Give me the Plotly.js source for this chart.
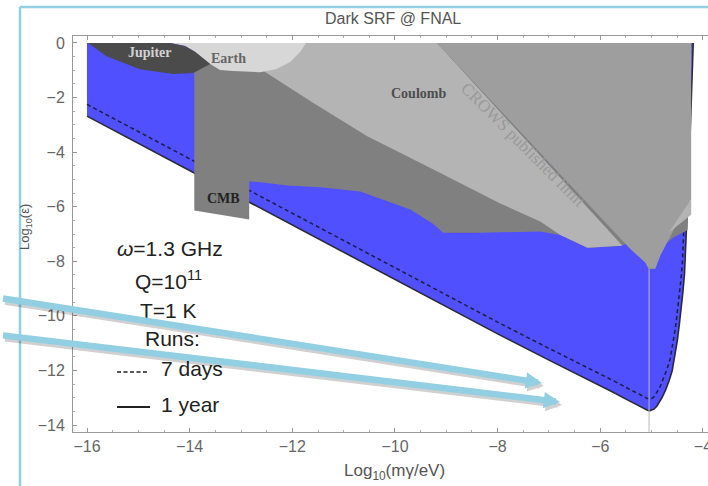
<!DOCTYPE html>
<html><head><meta charset="utf-8">
<script src="https://cdn.plot.ly/plotly-3.0.1.min.js"></script>
<style>html,body{margin:0;padding:0;background:#fff;} #chart{width:708px;height:486px;}</style>
</head><body><div id="chart"></div>
<script>
// ---- data (log10 mass in eV, log10 epsilon) ----
const year1X = [-16, -14, -12, -10, -8, -7, -6.5, -6, -5.75, -5.5, -5.35, -5.25, -5.15, -5.08, -5.04, -5.0, -4.95, -4.9, -4.85, -4.8, -4.73, -4.66, -4.6, -4.55, -4.5, -4.46, -4.42, -4.39, -4.36, -4.34, -4.32, -4.3, -4.28, -4.26, -4.24, -4.22, -4.19];
const year1Y = [-2.68, -4.68, -6.68, -8.68, -10.66, -11.62, -12.08, -12.55, -12.8, -13.05, -13.2, -13.31, -13.41, -13.46, -13.48, -13.46, -13.41, -13.31, -13.17, -13.0, -12.72, -12.38, -12.01, -11.5, -10.91, -10.3, -9.7, -9.1, -8.45, -7.7, -6.87, -6.1, -5.0, -3.9, -2.6, -1.4, 0];
const days7X = [-16, -14, -12, -10, -8, -7, -6.5, -6, -5.75, -5.5, -5.35, -5.25, -5.15, -5.08, -5.04, -5.0, -4.96, -4.92, -4.88, -4.83, -4.77, -4.7, -4.64, -4.59, -4.54, -4.5, -4.46, -4.43, -4.4, -4.38, -4.36, -4.34, -4.32, -4.3, -4.28, -4.26, -4.23];
const days7Y = [-2.25, -4.25, -6.25, -8.25, -10.23, -11.19, -11.65, -12.12, -12.37, -12.62, -12.77, -12.88, -12.98, -13.03, -13.05, -13.03, -12.98, -12.88, -12.74, -12.57, -12.29, -11.95, -11.58, -11.07, -10.48, -9.87, -9.27, -8.67, -8.02, -7.27, -6.44, -5.67, -4.57, -3.47, -2.17, -0.97, 0];

const cmbX = [-13.91, -13.91, -12.84, -12.84, -12.57, -12.10, -11.46, -10.68, -10.23, -9.70, -9.26, -9.06, -8.34, -7.17, -6.78, -6.25, -5.61, -5.42, -5.26, -5.12, -5.06, -4.93, -4.89, -4.77, -4.58, -4.34, -4.30, -4.22];
const cmbY = [0, -6.14, -6.47, -5.07, -5.11, -5.22, -5.29, -5.44, -5.74, -6.10, -6.62, -6.95, -6.95, -6.91, -7.04, -7.50, -7.43, -7.32, -7.68, -8.05, -8.27, -8.27, -7.87, -7.43, -7.13, -6.87, -6.85, 0];
const coulombX = [-12.53, -12.59, -11.59, -10.54, -9.26, -7.95, -7.17, -6.78, -6.25, -5.57, -9.18];
const coulombY = [0, -0.99, -2.20, -3.42, -4.63, -5.88, -6.54, -7.04, -7.50, -7.43, 0];
const crowsX = [-9.18, -5.42, -5.12, -5.06, -4.93, -4.83, -4.60, -4.23, -4.23];
const crowsY = [0, -7.54, -8.05, -8.27, -8.27, -7.79, -6.95, -5.73, 0];
const wedgeX = [-4.67, -4.23, -4.23];
const wedgeY = [-6.95, -5.73, -6.29];
const earthX = [-14.38, -14.09, -13.89, -13.60, -13.41, -13.15, -12.63, -12.32, -12.04, -11.85, -11.73];
const earthY = [0, -0.11, -0.33, -0.77, -0.99, -1.03, -1.07, -0.96, -0.70, -0.33, 0];
const jupiterX = [-15.98, -15.63, -14.97, -14.32, -13.93, -13.60, -13.89, -14.09, -14.38, -15.2, -15.98];
const jupiterY = [0, -0.48, -0.96, -1.14, -1.10, -0.77, -0.33, -0.11, 0, 0, 0];
const resonanceX = [-5.05, -5.05];
const resonanceY = [-8.27, -14.3];

// ---- layout helpers ----
const W = 708, H = 486, ML = 73, MR = 0, MT = 36, MB = 54;
const PW = W - ML - MR, PH = H - MT - MB;
function pxX(x) { return (x - ML) / PW; }
function pxY(y) { return (H - MB - y) / PH; }

const SANS = 'Liberation Sans, Arial, sans-serif';
const SERIF = 'Liberation Serif, Times New Roman, serif';

function poly(x, y, color) {
  return {x: x, y: y, type: 'scatter', mode: 'lines', fill: 'toself', fillcolor: color,
          line: {width: 0, color: color}, hoverinfo: 'skip', showlegend: false};
}

const traces = [
  poly([-16].concat(year1X), [0].concat(year1Y), '#5050ff'),
  {x: days7X, y: days7Y, type: 'scatter', mode: 'lines', line: {color: '#1c1c44', width: 1.5, dash: '4px,3px'}, showlegend: false},
  {x: year1X, y: year1Y, type: 'scatter', mode: 'lines', line: {color: '#2a2a3a', width: 1.6}, showlegend: false},
  {x: resonanceX, y: resonanceY, type: 'scatter', mode: 'lines', line: {color: '#b8b8b8', width: 1}, showlegend: false},
  poly(cmbX, cmbY, '#808080'),
  poly(coulombX, coulombY, '#b4b4b4'),
  poly(crowsX, crowsY, '#9e9e9e'),
  poly(wedgeX, wedgeY, '#b4b4b4'),
  poly(earthX, earthY, '#d7d7d7'),
  poly(jupiterX, jupiterY, '#4b4b4b')
];

const blue = '#93cfe2';
const shapes = [
  {type: 'line', xref: 'paper', yref: 'paper', x0: pxX(20), x1: pxX(20), y0: pxY(7), y1: pxY(490), line: {color: blue, width: 2.5}},
  {type: 'line', xref: 'paper', yref: 'paper', x0: pxX(20), x1: pxX(712), y0: pxY(7), y1: pxY(7), line: {color: blue, width: 2.5}},
  {type: 'line', xref: 'paper', yref: 'paper', x0: pxX(117), x1: pxX(148), y0: pxY(372), y1: pxY(372), line: {color: '#222', width: 1.5, dash: '4px,2.5px'}},
  {type: 'line', xref: 'paper', yref: 'paper', x0: pxX(117), x1: pxX(150), y0: pxY(407), y1: pxY(407), line: {color: '#222', width: 2}}
];

function txt(text, x, y, size, color, family, extra) {
  return Object.assign({text: text, xref: 'paper', yref: 'paper', x: pxX(x), y: pxY(y),
    xanchor: 'center', yanchor: 'middle', showarrow: false,
    font: {size: size, color: color, family: family}}, extra || {});
}
function arrow(tx, ty, sx, sy, color) {
  return {text: ' ', xref: 'paper', yref: 'paper', x: pxX(tx), y: pxY(ty), ax: sx - tx, ay: sy - ty,
    showarrow: true, arrowhead: 2, arrowsize: 0.5, arrowwidth: 6.5, arrowcolor: color, standoff: 0};
}

const annotations = [
  txt('Dark SRF @ FNAL', 393, 18, 16, '#555', SANS),
  txt('Log<sub>10</sub>(mγ/eV)', 394, 472, 17, '#555', SANS),
  txt('Log<sub>10</sub>(ε)', 25, 227, 13, '#555', SANS, {textangle: -90}),
  txt('<b>Jupiter</b>', 150, 52, 14, '#d2d2d2', SERIF),
  txt('<b>Earth</b>', 228, 58, 14, '#666', SERIF),
  txt('<b>Coulomb</b>', 418, 93, 14, '#4d4d4d', SERIF),
  txt('<b>CMB</b>', 223, 198, 14, '#222', SERIF),
  txt('CROWS published limit', 523, 144, 17, '#999999', SERIF, {textangle: 45}),
  txt('<i>ω</i>=1.3 GHz', 170, 248, 21, '#222', SANS),
  txt('Q=10<sup>11</sup>', 168, 280, 21, '#222', SANS),
  txt('T=1 K', 168, 310, 21, '#222', SANS),
  txt('Runs:', 172, 338, 21, '#222', SANS),
  txt('7 days', 192, 368, 21, '#222', SANS),
  txt('1 year', 190, 404, 21, '#222', SANS),
  arrow(544, 386, 2, 301, 'rgba(0,0,0,0.18)'),
  arrow(562, 405, 2, 338, 'rgba(0,0,0,0.18)'),
  arrow(542, 383, 0, 298, blue),
  arrow(560, 402, 0, 335, blue)
];

const axisCommon = {
  showgrid: false, zeroline: false, showline: true, linecolor: '#999', linewidth: 1,
  ticks: 'inside', ticklen: 4, tickcolor: '#999', tickwidth: 1,
  tickfont: {size: 16, color: '#666', family: SANS},
  tickmode: 'linear', tick0: 0, dtick: 2,
  ticklabeloverflow: 'allow',
  minor: {dtick: 0.5, tick0: 0, ticks: 'inside', ticklen: 2, tickcolor: '#aaa', showgrid: false}
};

const layout = {
  width: W, height: H,
  margin: {l: ML, r: MR, t: MT, b: MB, pad: 0},
  paper_bgcolor: '#fff', plot_bgcolor: '#fff',
  font: {family: SANS},
  showlegend: false,
  xaxis: Object.assign({}, axisCommon, {range: [-16.273, -3.902], mirror: 'ticks'}),
  yaxis: Object.assign({}, axisCommon, {range: [-14.255, 0.256], ticklabelstandoff: 4}),
  shapes: shapes,
  annotations: annotations
};

Plotly.newPlot('chart', traces, layout, {displayModeBar: false, staticPlot: true});
</script></body></html>
